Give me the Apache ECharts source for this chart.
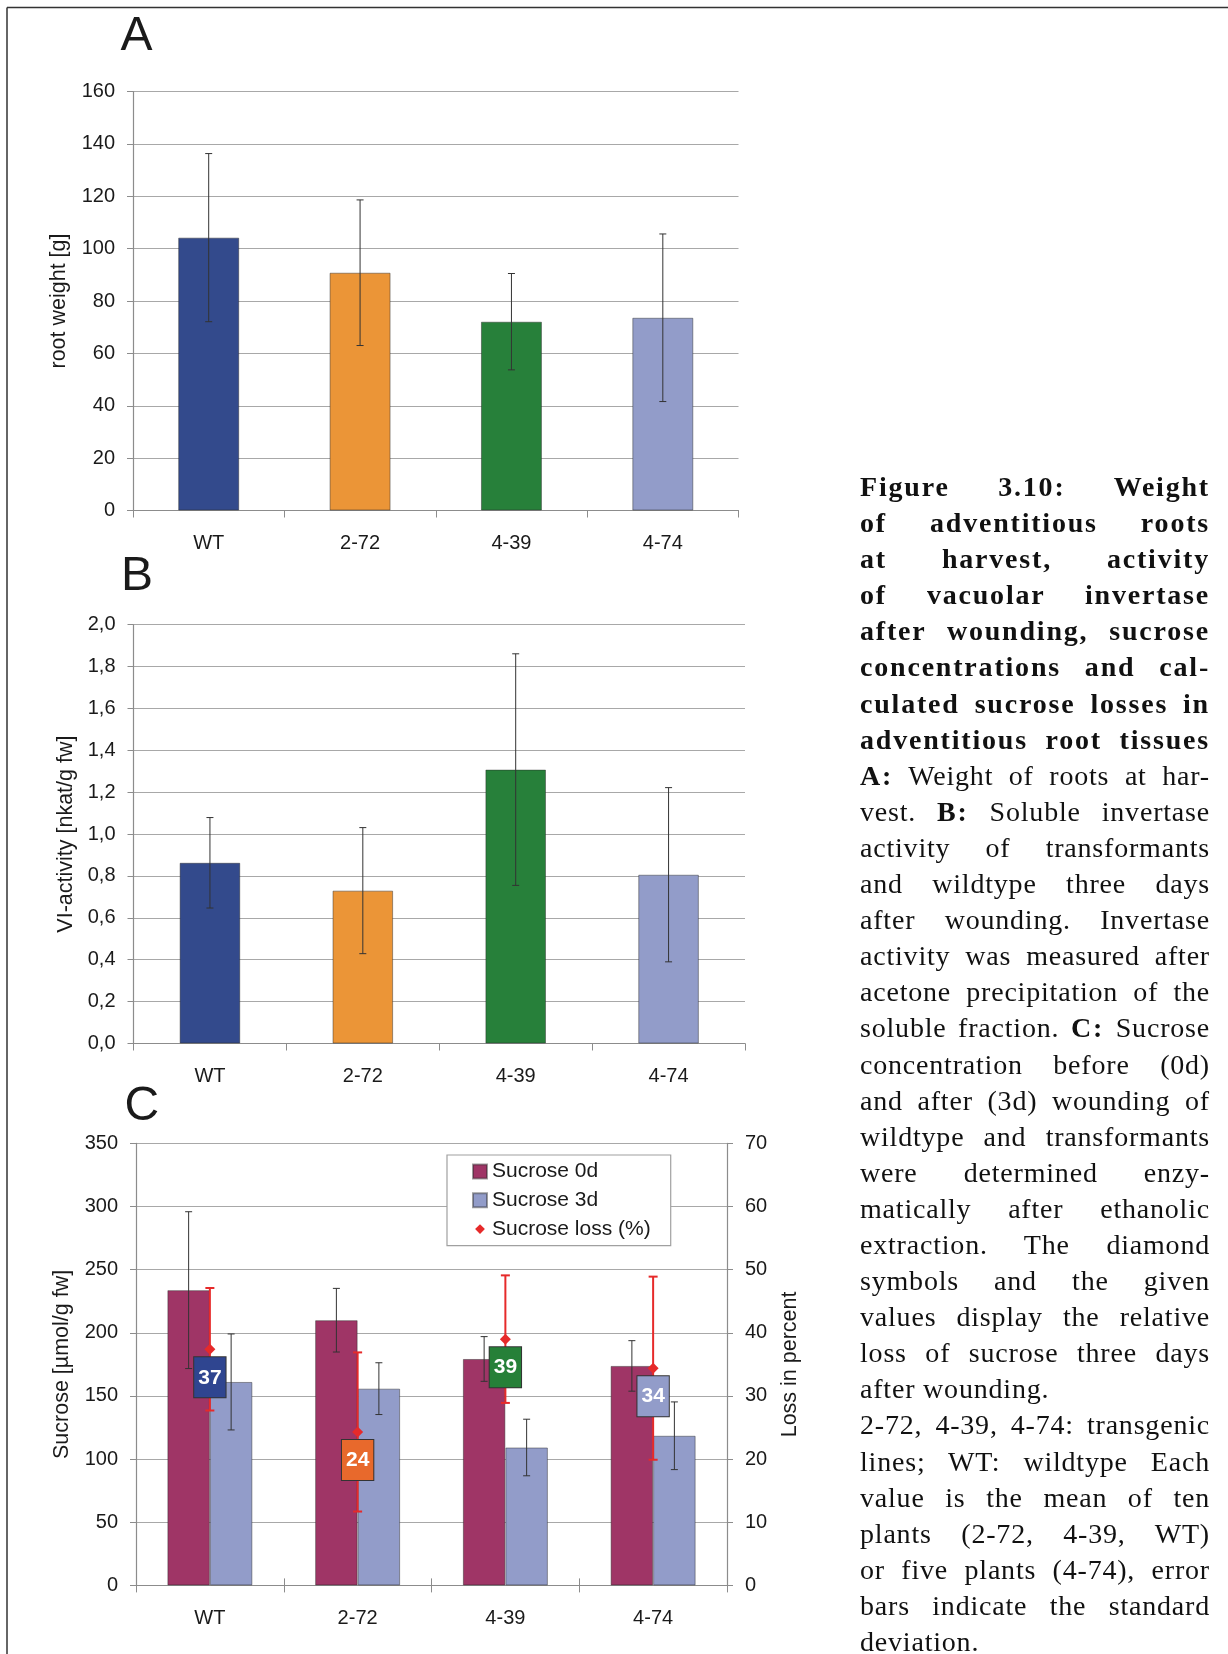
<!DOCTYPE html>
<html>
<head>
<meta charset="utf-8">
<script src="https://cdn.jsdelivr.net/npm/echarts@6/dist/echarts.min.js"></script>
<style>
  html, body { margin: 0; padding: 0; background: #fff; }
  #chart { position: absolute; left: 0; top: 0; width: 1228px; height: 1654px; }
  #caption {
    position: absolute; left: 860px; top: 469px; width: 350px;
    font-family: "Liberation Serif", "Times New Roman", serif;
    font-size: 28px; letter-spacing: 0.8px; color: #111;
  }
  #caption div { height: 36.1px; line-height: 36.1px; text-align: justify; text-align-last: justify; }
  #caption div.end { text-align-last: left; }
  #caption b { letter-spacing: 1.8px; }
</style>
</head>
<body>
<div id="chart"></div>
<div id="caption">
  <div><b>Figure 3.10: Weight</b></div>
  <div><b>of adventitious roots</b></div>
  <div><b>at harvest, activity</b></div>
  <div><b>of vacuolar invertase</b></div>
  <div><b>after wounding, sucrose</b></div>
  <div><b>concentrations and cal-</b></div>
  <div><b>culated sucrose losses in</b></div>
  <div><b>adventitious root tissues</b></div>
  <div><b>A:</b> Weight of roots at har-</div>
  <div>vest. <b>B:</b> Soluble invertase</div>
  <div>activity of transformants</div>
  <div>and wildtype three days</div>
  <div>after wounding. Invertase</div>
  <div>activity was measured after</div>
  <div>acetone precipitation of the</div>
  <div>soluble fraction. <b>C:</b> Sucrose</div>
  <div>concentration before (0d)</div>
  <div>and after (3d) wounding of</div>
  <div>wildtype and transformants</div>
  <div>were determined enzy-</div>
  <div>matically after ethanolic</div>
  <div>extraction. The diamond</div>
  <div>symbols and the given</div>
  <div>values display the relative</div>
  <div>loss of sucrose three days</div>
  <div class="end">after wounding.</div>
  <div>2-72, 4-39, 4-74: transgenic</div>
  <div>lines; WT: wildtype Each</div>
  <div>value is the mean of ten</div>
  <div>plants (2-72, 4-39, WT)</div>
  <div>or five plants (4-74), error</div>
  <div>bars indicate the standard</div>
  <div class="end">deviation.</div>
</div>
<script>
// data
var categories = ['WT', '2-72', '4-39', '4-74'];
var rootWeight = [104.2, 90.8, 72.1, 73.6];
var rootWeightSd = [32.1, 27.8, 18.4, 32.0];
var viActivity = [0.863, 0.730, 1.308, 0.806];
var viActivitySd = [0.216, 0.301, 0.553, 0.416];
var sucrose0d = [233.8, 210.0, 179.3, 173.8];
var sucrose0dSd = [62.1, 25.2, 17.7, 20.0];
var sucrose3d = [161.1, 155.8, 109.2, 118.5];
var sucrose3dSd = [38.0, 20.5, 22.4, 26.8];
var sucroseLoss = [37.4, 24.3, 39.0, 34.4];
var sucroseLossSd = [9.7, 12.6, 10.1, 14.5];

var lineColors = ['#334a8c', '#eb9537', '#27803a', '#929cc9'];
var boxColors = ['#2f4590', '#e8692c', '#268038', '#929cc9'];
var font = '"Liberation Sans", Arial, sans-serif';
var txt = '#1a1a1a';
var sucBarW = 42.5;

var chart = echarts.init(document.getElementById('chart'));

function errData(mean, sd) {
  return mean.map(function (m, i) { return [i, m + sd[i], m - sd[i]]; });
}

// error bar renderer, offset in px from the category centre
function errorBars(offset, capHalf, color, width) {
  return function (params, api) {
    var hi = api.coord([api.value(0), api.value(1)]);
    var lo = api.coord([api.value(0), api.value(2)]);
    var x = hi[0] + offset;
    var st = { stroke: color, lineWidth: width };
    return {
      type: 'group',
      children: [
        { type: 'line', shape: { x1: x, y1: hi[1], x2: x, y2: lo[1] }, style: st },
        { type: 'line', shape: { x1: x - capHalf, y1: hi[1], x2: x + capHalf, y2: hi[1] }, style: st },
        { type: 'line', shape: { x1: x - capHalf, y1: lo[1], x2: x + capHalf, y2: lo[1] }, style: st }
      ]
    };
  };
}

function catAxis(grid) {
  return {
    type: 'category', gridIndex: grid, data: categories,
    axisLine: { lineStyle: { color: '#8c8c8c', width: 1.2 } },
    axisTick: { show: true, length: 7, lineStyle: { color: '#8c8c8c' } },
    axisLabel: { fontSize: 20, fontFamily: font, color: txt, margin: 23 }
  };
}

function valAxis(grid, min, max, step, name, gap, fmt, pos) {
  return {
    type: 'value', gridIndex: grid, min: min, max: max, interval: step, position: pos || 'left',
    name: name, nameLocation: 'middle', nameGap: gap,
    nameTextStyle: { fontSize: 21.5, fontFamily: font, color: txt },
    axisLine: { show: true, lineStyle: { color: '#8c8c8c', width: 1.2 } },
    axisTick: { show: true, length: 6, lineStyle: { color: '#8c8c8c' } },
    axisLabel: { fontSize: 20, fontFamily: font, color: txt, margin: 18, formatter: fmt },
    splitLine: { show: grid !== 2 || pos !== 'right', lineStyle: { color: '#a8a8a8', width: 1.2 } }
  };
}

var option = {
  animation: false,
  backgroundColor: '#fff',
  grid: [
    { left: 133, top: 91.5, width: 605.5, height: 419, outerBoundsMode: 'none' },
    { left: 133.5, top: 624.7, width: 611.5, height: 418.8, outerBoundsMode: 'none' },
    { left: 136, top: 1143.4, width: 591, height: 442, outerBoundsMode: 'none' }
  ],
  xAxis: [
    catAxis(0),
    catAxis(1),
    catAxis(2),
    {
      type: 'category', gridIndex: 2, data: categories, position: 'bottom',
      axisLine: { show: false }, axisLabel: { show: false },
      axisTick: { show: true, inside: true, length: 7, lineStyle: { color: '#8c8c8c' } }
    }
  ],
  yAxis: [
    valAxis(0, 0, 160, 20, 'root weight [g]', 63),
    valAxis(1, 0, 2, 0.2, 'VI-activity [nkat/g fw]', 56,
      function (v) { return v.toFixed(1).replace('.', ','); }),
    valAxis(2, 0, 350, 50, 'Sucrose [\u00b5mol/g fw]', 63),
    valAxis(2, 0, 70, 10, 'Loss in percent', 52, null, 'right')
  ],
  legend: {
    left: 447, top: 1155, orient: 'vertical',
    padding: [6, 20, 6, 25], itemGap: 7.8, itemWidth: 14, itemHeight: 14,
    backgroundColor: '#fff', borderColor: '#a0a0a0', borderWidth: 1.2,
    selectedMode: false,
    textStyle: { fontSize: 21, fontFamily: font, color: txt },
    data: [
      { name: 'Sucrose 0d', icon: 'rect' },
      { name: 'Sucrose 3d', icon: 'rect' },
      { name: 'Sucrose loss (%)', icon: 'path://M0,0M20,20M10,3L17,10L10,17L3,10Z' }
    ]
  },
  graphic: [
    { type: 'line', shape: { x1: 7, y1: 7.5, x2: 1228, y2: 7.5 }, style: { stroke: '#333', lineWidth: 1.5 } },
    { type: 'line', shape: { x1: 7, y1: 7.5, x2: 7, y2: 1654 }, style: { stroke: '#333', lineWidth: 1.5 } },
    { type: 'text', left: 120.5, top: 12.4, style: { text: 'A', font: '48px ' + font, fill: txt } },
    { type: 'text', left: 121, top: 553, style: { text: 'B', font: '48px ' + font, fill: txt } },
    { type: 'text', left: 124.6, top: 1083, style: { text: 'C', font: '48px ' + font, fill: txt } }
  ],
  series: [
    {
      type: 'bar', xAxisIndex: 0, yAxisIndex: 0, barWidth: 61, data: rootWeight,
      itemStyle: { color: function (p) { return lineColors[p.dataIndex]; }, borderColor: 'rgba(40,40,40,0.45)', borderWidth: 1 }
    },
    {
      type: 'custom', xAxisIndex: 0, yAxisIndex: 0, z: 3,
      renderItem: errorBars(0, 3.5, '#333', 1), data: errData(rootWeight, rootWeightSd)
    },
    {
      type: 'bar', xAxisIndex: 1, yAxisIndex: 1, barWidth: 60.6, data: viActivity,
      itemStyle: { color: function (p) { return lineColors[p.dataIndex]; }, borderColor: 'rgba(40,40,40,0.45)', borderWidth: 1 }
    },
    {
      type: 'custom', xAxisIndex: 1, yAxisIndex: 1, z: 3,
      renderItem: errorBars(0, 3.5, '#333', 1), data: errData(viActivity, viActivitySd)
    },
    {
      name: 'Sucrose 0d', type: 'bar', xAxisIndex: 2, yAxisIndex: 2, barWidth: sucBarW, barGap: 0,
      data: sucrose0d, itemStyle: { color: '#9f3566', borderColor: 'rgba(40,40,40,0.45)', borderWidth: 1 }
    },
    {
      name: 'Sucrose 3d', type: 'bar', xAxisIndex: 2, yAxisIndex: 2, barWidth: sucBarW, barGap: 0,
      data: sucrose3d, itemStyle: { color: '#929cc9', borderColor: 'rgba(40,40,40,0.45)', borderWidth: 1 }
    },
    {
      type: 'custom', xAxisIndex: 2, yAxisIndex: 2, z: 3,
      renderItem: errorBars(-sucBarW / 2, 3.5, '#333', 1), data: errData(sucrose0d, sucrose0dSd)
    },
    {
      type: 'custom', xAxisIndex: 2, yAxisIndex: 2, z: 3,
      renderItem: errorBars(sucBarW / 2, 3.5, '#333', 1), data: errData(sucrose3d, sucrose3dSd)
    },
    {
      type: 'custom', xAxisIndex: 2, yAxisIndex: 3, z: 4,
      renderItem: errorBars(0, 4.5, '#e62a2a', 2), data: errData(sucroseLoss, sucroseLossSd)
    },
    {
      name: 'Sucrose loss (%)', type: 'line', xAxisIndex: 2, yAxisIndex: 3, z: 10,
      symbol: 'diamond', symbolSize: 11, showSymbol: true,
      lineStyle: { width: 0, opacity: 0 },
      itemStyle: { color: '#e62a2a' },
      emphasis: { disabled: true },
      label: {
        show: true, position: 'bottom', distance: 2.5,
        formatter: function (p) { return Math.round(p.value); },
        color: '#fff', fontWeight: 'bold', fontSize: 21, fontFamily: font, lineHeight: 21,
        padding: [10, 4, 9, 4], borderColor: '#333', borderWidth: 1
      },
      data: sucroseLoss.map(function (v, i) {
        return { value: v, label: { backgroundColor: boxColors[i] } };
      })
    }
  ]
};

chart.setOption(option);
</script>
</body>
</html>
